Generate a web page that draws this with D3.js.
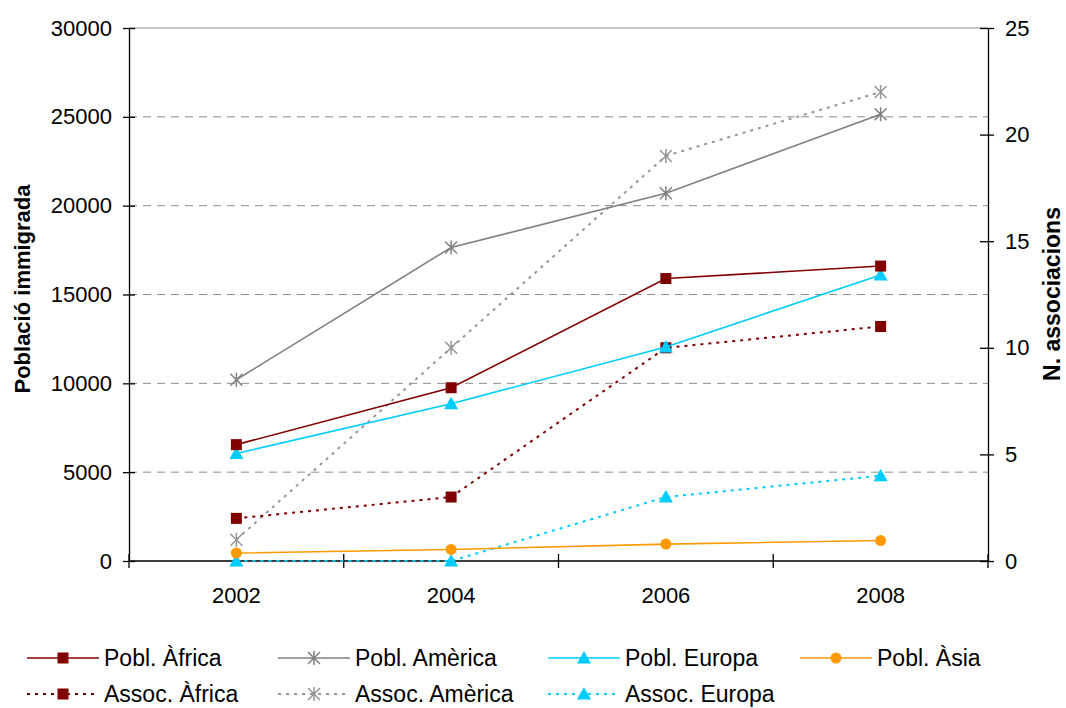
<!DOCTYPE html>
<html><head><meta charset="utf-8">
<script src="https://cdn.jsdelivr.net/npm/d3@7"></script>
<style>body{margin:0;background:#fff;}svg{display:block;font-family:"Liberation Sans",Arial,sans-serif;}</style>
</head><body><svg id="c" width="1066" height="708"></svg>
<script>
const years = ["2002","2004","2006","2008"];
const poblAfrica = [6550, 9750, 15900, 16600];
const poblAmerica = [10200, 17650, 20700, 25150];
const poblEuropa = [6050, 8850, 12050, 16100];
const poblAsia = [450, 650, 950, 1150];
const assocAfrica = [2, 3, 10, 11];
const assocAmerica = [1, 10, 19, 22];
const assocEuropa = [0, 0, 3, 4];
const leftTicks = [0, 5000, 10000, 15000, 20000, 25000, 30000];
const rightTicks = [0, 5, 10, 15, 20, 25];

const series = [
  {name:"Pobl. Àfrica", values:poblAfrica, axis:"L", color:"#800000", dash:null, marker:"square"},
  {name:"Pobl. Amèrica", values:poblAmerica, axis:"L", color:"#808080", dash:null, marker:"star"},
  {name:"Pobl. Europa", values:poblEuropa, axis:"L", color:"#00CCFF", dash:null, marker:"triangle"},
  {name:"Pobl. Àsia", values:poblAsia, axis:"L", color:"#FF9900", dash:null, marker:"circle"},
  {name:"Assoc. Àfrica", values:assocAfrica, axis:"R", color:"#800000", dash:"3,5", marker:"square"},
  {name:"Assoc. Amèrica", values:assocAmerica, axis:"R", color:"#969696", dash:"3,5", marker:"star"},
  {name:"Assoc. Europa", values:assocEuropa, axis:"R", color:"#00CCFF", dash:"3,5", marker:"triangle"}
];

const svg = d3.select("#c");
const L = 129, R = 988, T = 28, B = 561;
const FS = 22;
const x = d3.scaleBand().domain(years).range([L, R]);
const yL = d3.scaleLinear().domain([0, 30000]).range([B, T]);
const yR = d3.scaleLinear().domain([0, 25]).range([B, T]);
const cx = d => x(d) + x.bandwidth()/2;

// gridlines
svg.append("g").selectAll("line").data(leftTicks.filter(t => t > 0 && t < 30000)).join("line")
  .attr("x1", L).attr("x2", R).attr("y1", d => yL(d)).attr("y2", d => yL(d))
  .attr("stroke", "#8c8c8c").attr("stroke-width", 1).attr("stroke-dasharray", "8,6");
svg.append("line").attr("x1", L).attr("x2", R).attr("y1", T).attr("y2", T)
  .attr("stroke", "#8c8c8c").attr("stroke-width", 1);

// axes
const axL = svg.append("g").attr("transform", `translate(${L},0)`)
  .call(d3.axisLeft(yL).tickValues(leftTicks).tickFormat(d3.format("d")).tickSizeInner(6).tickSizeOuter(0));
const axR = svg.append("g").attr("transform", `translate(${R},0)`)
  .call(d3.axisRight(yR).tickValues(rightTicks).tickFormat(d3.format("d")).tickSizeInner(6).tickSizeOuter(0));
const axB = svg.append("g").attr("transform", `translate(0,${B})`)
  .call(d3.axisBottom(x).tickSize(0).tickPadding(0));
[axL, axR, axB].forEach(g => {
  g.attr("font-size", FS).attr("font-family", "Liberation Sans, Arial, sans-serif");
  g.select(".domain").attr("stroke", "#000").attr("stroke-width", 1.3);
  g.selectAll(".tick line").attr("stroke", "#000").attr("stroke-width", 1.3);
  g.selectAll("text").attr("font-size", FS).attr("fill", "#000");
});
axL.selectAll(".tick line").attr("x1", 6);
axL.selectAll("text").attr("x", -17);
axR.selectAll(".tick line").attr("x1", -8);
axR.selectAll("text").attr("x", 17);
axB.select(".domain").remove();
axB.append("line").attr("x1", L).attr("x2", R).attr("y1", 0).attr("y2", 0).attr("stroke", "#000").attr("stroke-width", 1.3);
axB.selectAll("text").attr("y", 35).attr("dy", "0.32em");
// category boundary ticks
const bounds = years.map(d => x(d)).concat([R]);
axB.append("g").selectAll("line").data(bounds).join("line")
  .attr("x1", d => d).attr("x2", d => d).attr("y1", -7).attr("y2", 7)
  .attr("stroke", "#000").attr("stroke-width", 1.3);

// axis titles
svg.append("text").attr("transform", `translate(30,289) rotate(-90)`).attr("text-anchor", "middle")
  .attr("font-size", 22).attr("font-weight", "bold").text("Població immigrada");
svg.append("text").attr("transform", `translate(1060,294) rotate(-90)`).attr("text-anchor", "middle")
  .attr("font-size", 23).attr("font-weight", "bold").text("N. associacions");

function drawMarker(g, type, color, px, py) {
  if (type === "square") {
    g.append("rect").attr("x", px-5.5).attr("y", py-5.5).attr("width", 11).attr("height", 11).attr("fill", color);
  } else if (type === "triangle") {
    g.append("path").attr("d", `M${px},${py-7}L${px+7},${py+5.5}L${px-7},${py+5.5}Z`).attr("fill", color);
  } else if (type === "circle") {
    g.append("circle").attr("cx", px).attr("cy", py).attr("r", 5.5).attr("fill", color);
  } else if (type === "star") {
    const s = 6;
    g.append("path").attr("d", `M${px-s},${py-s}L${px+s},${py+s}M${px-s},${py+s}L${px+s},${py-s}M${px},${py-s-1}L${px},${py+s+1}`)
      .attr("stroke", color).attr("stroke-width", 1.5).attr("fill", "none");
  }
}

// series (draw Assoc first, then Pobl on top)
const order = [6,5,4,3,2,1,0];
order.forEach(i => {
  const s = series[i];
  const ys = s.axis === "L" ? yL : yR;
  const g = svg.append("g");
  const line = d3.line().x((d, j) => cx(years[j])).y(d => ys(d));
  g.append("path").attr("d", line(s.values)).attr("fill", "none").attr("stroke", s.color)
    .attr("stroke-width", s.dash ? 2 : 1.6).attr("stroke-dasharray", s.dash);
  s.values.forEach((v, j) => drawMarker(g, s.marker, s.color, cx(years[j]), ys(v)));
});

// legend
const legCols = [27, 278, 548, 800];
series.forEach((s, i) => {
  const row = i < 4 ? 0 : 1;
  const col = i < 4 ? i : i - 4;
  const lx = legCols[col], ly = row === 0 ? 658 : 694;
  const g = svg.append("g");
  g.append("line").attr("x1", lx).attr("x2", lx + 72).attr("y1", ly).attr("y2", ly)
    .attr("stroke", s.color).attr("stroke-width", s.dash ? 2 : 1.6).attr("stroke-dasharray", s.dash);
  drawMarker(g, s.marker, s.color, lx + 36, ly);
  g.append("text").attr("x", lx + 77).attr("y", ly).attr("dy", "0.35em").attr("font-size", 23).text(s.name);
});
</script></body></html>
